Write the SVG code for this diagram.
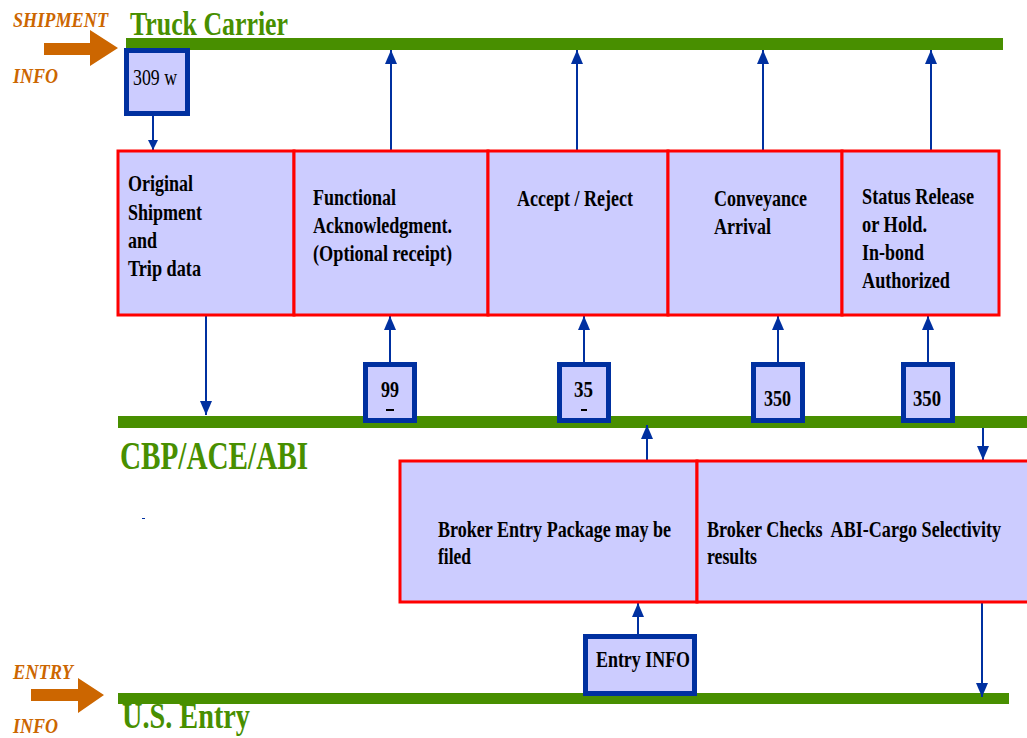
<svg xmlns="http://www.w3.org/2000/svg" width="1027" height="738" viewBox="0 0 1027 738">
<style>
.bar{fill:#488f00}
.lane{font-family:"Liberation Serif",serif;font-weight:bold;fill:#488f00}
.side{font-family:"Liberation Serif",serif;font-weight:bold;font-style:italic;fill:#cc6600;font-size:21px}
.box{fill:#ccccff;stroke:#ff0000;stroke-width:3}
.msg{fill:#ccccff;stroke:#0030a0;stroke-width:5}
.t{font-family:"Liberation Serif",serif;font-weight:bold;font-size:24px;fill:#000}
.s{font-family:"Liberation Serif",serif;font-weight:bold;font-size:19px;fill:#000}
.conn line{stroke:#0030a0;stroke-width:2;fill:none}
.orange{fill:#cc6600}
</style>
<defs>
<marker id="ah" viewBox="0 0 10 10" refX="10" refY="5" markerWidth="10" markerHeight="10" markerUnits="userSpaceOnUse" orient="auto">
<path d="M0,0 L10,5 L0,10 Z" fill="#0030a0"/>
</marker>
<marker id="ahb" viewBox="0 0 14 12" refX="14" refY="6" markerWidth="14" markerHeight="12" markerUnits="userSpaceOnUse" orient="auto">
<path d="M0,0 L14,6 L0,12 Z" fill="#0030a0"/>
</marker>
</defs>
<rect width="1027" height="738" fill="#fff"/>

<g id="lane-truck">
<rect class="bar" x="126" y="38" width="877" height="12"/>
<text class="lane" x="130" y="35" font-size="33" textLength="158" lengthAdjust="spacingAndGlyphs">Truck Carrier</text>
</g>
<g id="lane-cbp">
<rect class="bar" x="118" y="416" width="909" height="12"/>
<text class="lane" x="120" y="469" font-size="40" textLength="188" lengthAdjust="spacingAndGlyphs">CBP/ACE/ABI</text>
</g>
<g id="lane-entry">
<rect class="bar" x="118" y="693" width="891" height="11"/>
<text class="lane" x="122" y="728" font-size="35" textLength="128" lengthAdjust="spacingAndGlyphs">U.S. Entry</text>
</g>

<g id="shipment-info">
<text class="side" x="13" y="27" textLength="95" lengthAdjust="spacingAndGlyphs">SHIPMENT</text>
<text class="side" x="13" y="83" textLength="45" lengthAdjust="spacingAndGlyphs">INFO</text>
<path class="orange" d="M44,43 H90 V30 L118,48 L90,66 V55 H44 Z"/>
</g>
<g id="entry-info-side">
<text class="side" x="13" y="679" textLength="60" lengthAdjust="spacingAndGlyphs">ENTRY</text>
<text class="side" x="13" y="733" textLength="45" lengthAdjust="spacingAndGlyphs">INFO</text>
<path class="orange" d="M31,689 H78 V678 L104,695 L78,713 V701 H31 Z"/>
</g>

<g id="connectors" class="conn">
<line x1="153" y1="116" x2="153" y2="150" marker-end="url(#ah)"/>
<line x1="206" y1="316" x2="206" y2="415" marker-end="url(#ahb)"/>
<line x1="391" y1="151" x2="391" y2="50" marker-end="url(#ahb)"/>
<line x1="577" y1="151" x2="577" y2="50" marker-end="url(#ahb)"/>
<line x1="763" y1="151" x2="763" y2="50" marker-end="url(#ahb)"/>
<line x1="931" y1="151" x2="931" y2="50" marker-end="url(#ahb)"/>
<line x1="390" y1="363" x2="390" y2="316" marker-end="url(#ahb)"/>
<line x1="584" y1="363" x2="584" y2="316" marker-end="url(#ahb)"/>
<line x1="778" y1="363" x2="778" y2="316" marker-end="url(#ahb)"/>
<line x1="928" y1="363" x2="928" y2="316" marker-end="url(#ahb)"/>
<line x1="647" y1="461" x2="647" y2="425" marker-end="url(#ahb)"/>
<line x1="983" y1="428" x2="983" y2="460" marker-end="url(#ahb)"/>
<line x1="638" y1="635" x2="638" y2="603" marker-end="url(#ahb)"/>
<line x1="982" y1="602" x2="982" y2="697" marker-end="url(#ahb)"/>
<line x1="142" y1="518.5" x2="145" y2="518.5" style="stroke-width:1"/>
</g>

<g id="msg-309">
<rect class="msg" x="126.5" y="50.5" width="61" height="63"/>
<text x="133" y="85" font-family="Liberation Serif, serif" font-size="23" textLength="44" lengthAdjust="spacingAndGlyphs">309 w</text>
</g>

<g id="step-original">
<rect class="box" x="118" y="151" width="176" height="164"/>
<text class="t" x="128" y="191" textLength="65" lengthAdjust="spacingAndGlyphs">Original</text>
<text class="t" x="128" y="220" textLength="74" lengthAdjust="spacingAndGlyphs">Shipment</text>
<text class="t" x="128" y="248" textLength="29" lengthAdjust="spacingAndGlyphs">and</text>
<text class="t" x="128" y="276" textLength="73" lengthAdjust="spacingAndGlyphs">Trip data</text>
</g>
<g id="step-functional">
<rect class="box" x="294" y="151" width="194" height="164"/>
<text class="t" x="313" y="205" textLength="83" lengthAdjust="spacingAndGlyphs">Functional</text>
<text class="t" x="313" y="233" textLength="139" lengthAdjust="spacingAndGlyphs">Acknowledgment.</text>
<text class="t" x="313" y="261" textLength="139" lengthAdjust="spacingAndGlyphs">(Optional receipt)</text>
</g>
<g id="step-accept">
<rect class="box" x="488" y="151" width="180" height="164"/>
<text class="t" x="517" y="206" textLength="116" lengthAdjust="spacingAndGlyphs">Accept / Reject</text>
</g>
<g id="step-conveyance">
<rect class="box" x="668" y="151" width="174" height="164"/>
<text class="t" x="714" y="206" textLength="93" lengthAdjust="spacingAndGlyphs">Conveyance</text>
<text class="t" x="714" y="234" textLength="57" lengthAdjust="spacingAndGlyphs">Arrival</text>
</g>
<g id="step-status">
<rect class="box" x="842" y="151" width="157" height="164"/>
<text class="t" x="862" y="204" textLength="112" lengthAdjust="spacingAndGlyphs">Status Release</text>
<text class="t" x="862" y="232" textLength="65" lengthAdjust="spacingAndGlyphs">or Hold.</text>
<text class="t" x="862" y="260" textLength="62" lengthAdjust="spacingAndGlyphs">In-bond</text>
<text class="t" x="862" y="288" textLength="88" lengthAdjust="spacingAndGlyphs">Authorized</text>
</g>

<g id="msg-99">
<rect class="msg" x="365.5" y="364.5" width="49" height="56"/>
<text class="t" x="381" y="397" textLength="18" lengthAdjust="spacingAndGlyphs">99</text>
<rect x="386" y="409" width="8" height="2" fill="#000"/>
</g>
<g id="msg-35">
<rect class="msg" x="559.5" y="364.5" width="49" height="56"/>
<text class="t" x="574" y="397" textLength="19" lengthAdjust="spacingAndGlyphs">35</text>
<rect x="581" y="409" width="6" height="2" fill="#000"/>
</g>
<g id="msg-350a">
<rect class="msg" x="753.5" y="364.5" width="49" height="56"/>
<text class="t" x="764" y="406" textLength="27" lengthAdjust="spacingAndGlyphs">350</text>
</g>
<g id="msg-350b">
<rect class="msg" x="903.5" y="364.5" width="49" height="56"/>
<text class="t" x="913" y="406" textLength="28" lengthAdjust="spacingAndGlyphs">350</text>
</g>

<g id="step-broker-entry">
<rect class="box" x="400" y="461" width="297" height="141"/>
<text class="s" transform="translate(438,537) scale(1,1.25)" x="0" y="0" textLength="233" lengthAdjust="spacingAndGlyphs">Broker Entry Package may be</text>
<text class="s" transform="translate(438,564) scale(1,1.25)" x="0" y="0" textLength="33" lengthAdjust="spacingAndGlyphs">filed</text>
</g>
<g id="step-broker-checks">
<rect class="box" x="697" y="461" width="333" height="141"/>
<text class="s" transform="translate(707,537) scale(1,1.25)" x="0" y="0" textLength="294" lengthAdjust="spacingAndGlyphs" xml:space="preserve">Broker Checks  ABI-Cargo Selectivity</text>
<text class="s" transform="translate(707,564) scale(1,1.25)" x="0" y="0" textLength="50" lengthAdjust="spacingAndGlyphs">results</text>
</g>

<g id="msg-entry-info">
<rect class="msg" x="585.5" y="636.5" width="109" height="57"/>
<text class="t" x="596" y="667" textLength="94" lengthAdjust="spacingAndGlyphs">Entry INFO</text>
</g>
</svg>
